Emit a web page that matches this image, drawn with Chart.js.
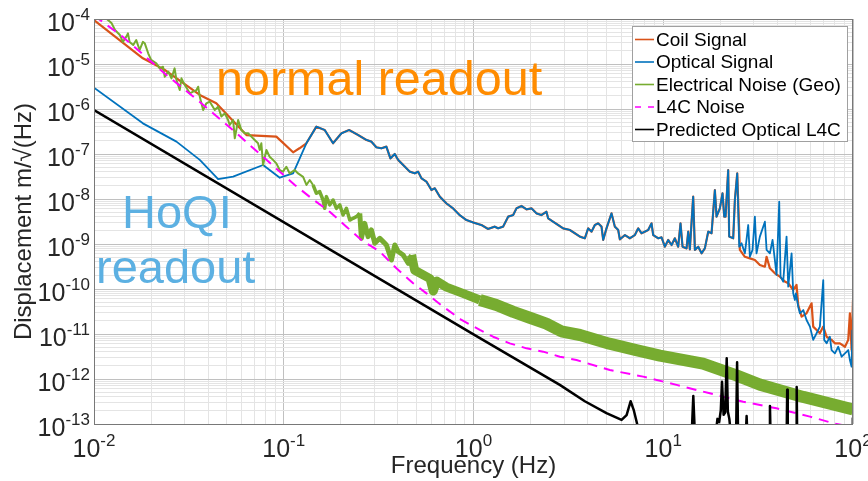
<!DOCTYPE html>
<html>
<head>
<meta charset="utf-8">
<script src="https://cdn.jsdelivr.net/npm/chart.js@4.4.1/dist/chart.umd.min.js"></script>
<style>
  html, body { margin: 0; padding: 0; background: #fff; }
  #wrap { width: 868px; height: 481px; }
</style>
</head>
<body>
<div id="wrap"><canvas id="myChart" width="868" height="481"></canvas></div>
<script>
// ---- data (frequency in Hz, amplitude in m/sqrt(Hz)) ----

// Coil signal, low frequency part
const coilLowHz  = [0.01, 0.0181, 0.0236, 0.0361, 0.0441, 0.0636, 0.0914, 0.112, 0.121];
const coilLowAmp = [9.5e-5, 1.34e-5, 7.4e-6, 2.05e-6, 1.34e-6, 2.64e-7, 2.43e-7, 1.09e-7, 1.34e-7];

// Optical signal, low frequency part
const opticalLowHz  = [0.01, 0.0181, 0.0272, 0.0361, 0.0451, 0.0541, 0.0778, 0.0953, 0.112, 0.1214];
const opticalLowAmp = [2.97e-6, 4.8e-7, 1.88e-7, 7.4e-8, 2.78e-8, 3.13e-8, 5.7e-8, 2.97e-8, 3.72e-8, 8.0e-8];

// 0.13 - 25 Hz: coil and optical lie on top of each other
const sharedHz = [0.1316, 0.1485, 0.1644, 0.1819, 0.2013, 0.221, 0.2465, 0.2727, 0.2897, 0.3078,
  0.327, 0.3474, 0.3648, 0.3845, 0.4006, 0.4432, 0.4615, 0.4903, 0.5107, 0.5319,
  0.565, 0.6003, 0.6252, 0.6642, 0.7196, 0.7797, 0.8448, 0.9153, 0.9917, 1.102,
  1.194, 1.294, 1.348, 1.432, 1.523, 1.618, 1.685, 1.79, 1.902, 2.021,
  2.147, 2.281, 2.424, 2.473, 2.627, 2.792, 2.966, 3.219, 3.42, 3.635,
  3.862, 4.021, 4.187, 4.361, 4.54, 4.727, 4.824, 5.023, 5.338, 5.558,
  5.788, 5.906, 6.276, 6.668, 7.085, 7.378, 7.683, 7.998, 8.329, 8.674,
  8.851, 9.404, 9.793, 10.2, 10.62, 11.06, 11.51, 11.99, 12.33, 12.64,
  13.27, 13.54, 13.81, 14.38, 14.68, 15.29, 15.92, 16.57, 17.26, 17.97,
  18.71, 19.09, 19.88, 20.53, 20.96, 21.3, 21.99, 22.26, 23.37, 23.85, 24.54];
const sharedAmp = [1.73e-7, 4.05e-7, 3.41e-7, 1.73e-7, 2.88e-7, 3.41e-7, 2.64e-7, 2.05e-7, 1.88e-7, 1.41e-7,
  1.34e-7, 1.46e-7, 8.0e-8, 1.0e-7, 7.4e-8, 4.8e-8, 4.05e-8, 3.72e-8, 4.05e-8, 2.88e-8,
  2.43e-8, 1.58e-8, 1.73e-8, 1.13e-8, 8.0e-9, 6.2e-9, 4.4e-9, 3.42e-9, 3.03e-9, 2.64e-9,
  2.16e-9, 2.43e-9, 2.23e-9, 2.43e-9, 4.05e-9, 4.4e-9, 6.2e-9, 7.0e-9, 5.9e-9, 6.2e-9,
  4.8e-9, 4.4e-9, 5.2e-9, 3.72e-9, 3.14e-9, 2.64e-9, 2.23e-9, 2.05e-9, 1.73e-9, 1.46e-9,
  1.34e-9, 2.23e-9, 1.88e-9, 2.64e-9, 2.88e-9, 2.43e-9, 1.23e-9, 2.23e-9, 4.8e-9, 2.43e-9,
  2.05e-9, 1.27e-9, 1.58e-9, 1.34e-9, 1.58e-9, 2.23e-9, 1.73e-9, 1.88e-9, 2.05e-9, 2.88e-9,
  1.58e-9, 1.34e-9, 1.41e-9, 8.7e-10, 1.23e-9, 9.5e-10, 1.34e-9, 8.7e-10, 2.88e-9, 8.7e-10,
  8.0e-10, 1.88e-9, 7.6e-10, 1.13e-8, 7.4e-10, 8.7e-10, 6.2e-10, 8.0e-10, 1.88e-9, 1.73e-9,
  1.58e-8, 4.05e-9, 6.2e-9, 1.34e-8, 4.05e-9, 4.05e-9, 4.4e-8, 1.46e-9, 1.34e-9, 9.5e-9, 3.72e-8];

// Coil signal above 25 Hz
const coilHighHz  = [25.34, 26.93, 28.61, 30.4, 32.3, 34.33, 35.04, 36.48, 38.75, 41.19,
  43.75, 45.57, 48.42, 50.4, 51.45, 53.6, 56.9, 60.5, 61.7, 64.3,
  66.9, 69.7, 72.6, 77.1, 80.3, 85.3, 90.7, 94.4, 96.3, 98.3, 100];
const coilHighAmp = [7.4e-10, 5.2e-10, 4.8e-10, 4.4e-10, 3.41e-10, 3.13e-10, 5.2e-10, 2.88e-10, 2.23e-10, 1.88e-10,
  1.46e-10, 1.34e-10, 9.5e-11, 1.23e-10, 4.4e-11, 2.43e-11, 2.88e-11, 4.8e-11, 1.46e-11, 1.23e-11,
  1.04e-11, 1.46e-11, 8.7e-12, 7.4e-12, 6.2e-12, 6.2e-12, 5.2e-12, 7.4e-12, 2.88e-11, 4.4e-12, 5.7e-11];

// Optical signal above 25 Hz
const opticalHighHz  = [25.14, 25.86, 26.93, 28.04, 28.61, 29.55, 30.4, 31.02, 32.3, 34.33,
  35.04, 36.48, 37.67, 38.75, 39.54, 40.85, 41.51, 42.88, 44.65, 45.57,
  47.46, 48.42, 49.41, 50.0, 51.45, 52.5, 54.7, 56.9, 59.3, 61.7,
  64.3, 66.9, 69.7, 70.5, 72.6, 75.5, 77.1, 80.3, 83.6, 87.1,
  90.7, 94.4, 96.3, 98.3, 99.2, 100];
const opticalHighAmp = [8.7e-10, 1.04e-9, 6.2e-10, 2.64e-9, 5.2e-10, 7.4e-10, 4.05e-9, 6.2e-10, 1.46e-9, 3.13e-9,
  7.4e-10, 6.2e-10, 1.23e-9, 4.4e-10, 2.05e-10, 8.7e-9, 1.88e-10, 1.46e-10, 1.46e-9, 1.13e-10,
  6.2e-10, 8.0e-11, 5.7e-11, 8.0e-11, 4.05e-11, 2.88e-11, 3.41e-11, 2.05e-11, 1.46e-11, 7.4e-12,
  1.04e-11, 1.46e-11, 1.58e-10, 7.4e-12, 6.2e-12, 8.7e-12, 4.4e-12, 3.72e-12, 5.2e-12, 3.13e-12,
  3.72e-12, 4.4e-12, 2.64e-12, 1.88e-12, 1.2e-11, 1.7e-12];

// Electrical noise (geophone)
const geoHz = [0.01, 0.0116, 0.0124, 0.0129, 0.0137, 0.0142, 0.0148, 0.0151, 0.0154, 0.0161,
  0.0167, 0.0174, 0.0181, 0.0185, 0.0193, 0.02, 0.0213, 0.0222, 0.0231, 0.0236,
  0.0246, 0.0256, 0.0266, 0.0272, 0.0283, 0.0289, 0.0301, 0.032, 0.0333, 0.0347,
  0.0354, 0.0361, 0.0376, 0.0391, 0.0407, 0.0433, 0.0451, 0.0469, 0.0489, 0.0509,
  0.0519, 0.0541, 0.0552, 0.0575, 0.0598, 0.0623, 0.0649, 0.0675, 0.0703, 0.0732,
  0.0747, 0.0762, 0.0778, 0.081, 0.0843, 0.0878, 0.0914, 0.0952, 0.0991, 0.1032,
  0.1075, 0.1142, 0.119, 0.1265, 0.1317, 0.1371, 0.1427, 0.1486, 0.1547, 0.1611,
  0.1644, 0.1678, 0.1747, 0.1819, 0.1895, 0.1973, 0.2054, 0.2139, 0.2228, 0.2319,
  0.2415, 0.2515, 0.2566, 0.2672, 0.2782, 0.2897, 0.3017, 0.3207, 0.3339, 0.3477,
  0.3696, 0.3848, 0.4007, 0.4259, 0.4528, 0.4714, 0.49, 0.59, 0.614, 0.64,
  0.72, 0.88, 1.08, 1.32, 1.62, 1.98, 2.42, 2.9, 3.64, 5.2,
  7.2, 9.6, 16.2, 24.3, 32.3, 54.7, 100];
const geoAmp = [1.6e-4, 1.03e-4, 8.0e-5, 5.7e-5, 4.4e-5, 3.1e-5, 4.05e-5, 4.8e-5, 3.1e-5, 2.64e-5,
  3.4e-5, 2.05e-5, 3.1e-5, 2.9e-5, 1.73e-5, 1.23e-5, 1.04e-5, 8.0e-6, 8.7e-6, 5.2e-6,
  6.8e-6, 4.8e-6, 8.0e-6, 4.4e-6, 2.64e-6, 4.8e-6, 3.4e-6, 2.23e-6, 2.43e-6, 2.64e-6,
  3.13e-6, 1.88e-6, 9.5e-7, 1.34e-6, 1.46e-6, 9.5e-7, 1.13e-6, 6.8e-7, 8.0e-7, 5.7e-7,
  4.4e-7, 5.7e-7, 2.23e-7, 5.7e-7, 3.4e-7, 2.9e-7, 2.9e-7, 2.43e-7, 2.05e-7, 1.73e-7,
  1.23e-7, 1.73e-7, 5.7e-8, 1.23e-7, 8.7e-8, 7.4e-8, 6.2e-8, 4.4e-8, 4.05e-8, 5.2e-8,
  3.7e-8, 4.4e-8, 3.7e-8, 3.1e-8, 2.05e-8, 2.64e-8, 2.05e-8, 1.34e-8, 1.46e-8, 9.5e-9,
  6.2e-9, 1.13e-8, 7.4e-9, 9.5e-9, 6.2e-9, 7.4e-9, 4.4e-9, 6.2e-9, 3.4e-9, 3.72e-9,
  4.05e-9, 4.8e-9, 1.34e-9, 2.88e-9, 1.46e-9, 2.05e-9, 1.04e-9, 1.34e-9, 1.13e-9, 9.5e-10,
  4.4e-10, 9.5e-10, 6.8e-10, 5.7e-10, 3.72e-10, 5.7e-10, 2.6e-10, 1.7e-10, 9.0e-11, 1.5e-10,
  1.1e-10, 8.0e-11, 5.7e-11, 4.4e-11, 3.1e-11, 2.3e-11, 1.7e-11, 1.15e-11, 9.5e-12, 6.1e-12,
  4.4e-12, 3.3e-12, 2.2e-12, 1.2e-12, 7.5e-13, 4.0e-13, 2.1e-13];

// L4C noise model
const l4cHz  = [0.01, 0.0142, 0.0241, 0.036, 0.054, 0.0794, 0.1143, 0.14, 0.1747, 0.2138,
  0.2566, 0.3207, 0.3926, 0.4808, 0.5652, 0.6918, 0.8645, 1.08, 1.269, 1.553,
  1.902, 2.33, 2.85, 3.49, 5.23, 7.84, 11.75, 17.6, 26.4, 39.5, 59.3, 78.7, 100];
const l4cAmp = [1.2e-4, 4.0e-5, 5.7e-6, 1.45e-6, 3.4e-7, 8.0e-8, 2.05e-8, 1.04e-8, 5.2e-9, 2.43e-9,
  1.23e-9, 6.8e-10, 2.88e-10, 1.34e-10, 8.0e-11, 4.05e-11, 2.05e-11, 1.23e-11, 8.7e-12, 6.2e-12,
  4.8e-12, 4.05e-12, 3.13e-12, 2.64e-12, 1.58e-12, 1.13e-12, 7.4e-13, 4.8e-13, 3.13e-13, 2.23e-13, 1.46e-13, 1.04e-13, 8.5e-14];

// Predicted optical L4C
const predHz  = [0.01, 1.0, 2.85, 3.86, 5.02, 6.03, 6.41, 6.73, 7.0, 7.38,
  8.0, 14.1, 14.4, 14.7, 18.8, 19.3, 19.7, 20.1, 20.4, 20.8,
  21.2, 21.6, 21.9, 22.3, 22.8, 24.2, 24.5, 24.8, 27.2, 27.5,
  27.8, 36.2, 36.5, 36.8, 44.7, 45.0, 45.3, 50.2, 50.5, 50.8, 99.5, 99.8, 100];
const predAmp = [9.5e-7, 9.8e-12, 7.4e-13, 3.2e-13, 1.74e-13, 1.23e-13, 1.58e-13, 3.2e-13, 2.0e-13, 8e-14,
  5e-14, 5e-14, 4.2e-13, 5e-14, 5e-14, 1.3e-13, 1.1e-13, 2.0e-13, 8.7e-13, 1.6e-13,
  1.8e-13, 2.9e-12, 1.9e-13, 1.3e-13, 5e-14, 5e-14, 2.35e-12, 5e-14, 5e-14, 1.5e-13,
  5e-14, 5e-14, 2.5e-13, 5e-14, 5e-14, 5.8e-13, 5e-14, 5e-14, 6.6e-13, 5e-14, 5e-14, 1.35e-13, 5e-14];

const seriesLabels = ['Coil Signal', 'Optical Signal', 'Electrical Noise (Geo)', 'L4C Noise', 'Predicted Optical L4C'];
const seriesColors = ['rgb(217,83,25)', 'rgb(0,114,189)', 'rgb(119,172,48)', 'rgb(255,0,255)', '#000000'];

const FONT = '"Liberation Sans", Arial, Helvetica, sans-serif';
const TEXT = '#262626';

// helper: zip two arrays into {x, y}
const pts = (xs, ys) => xs.map((x, i) => ({ x: x, y: ys[i] }));

const coilPts = pts(coilLowHz, coilLowAmp).concat(pts(sharedHz, sharedAmp), pts(coilHighHz, coilHighAmp));
const opticalPts = pts(opticalLowHz, opticalLowAmp).concat(pts(sharedHz, sharedAmp), pts(opticalHighHz, opticalHighAmp));

// geophone noise gets wider where the trace turns into a dense band
const geoWidth = (c) => {
    const f = c.p0.parsed.x;
    if (f < 0.14) return 2;
    if (f < 0.25) return 3.5;
    if (f < 0.47) return 5;
    if (f < 0.9) return 9;
    return 12;
};

// decade ticks with 2..9 minor lines, like matlab
function decadeTicks(scale) {
    const lo = Math.round(Math.log10(scale.min));
    const hi = Math.round(Math.log10(scale.max));
    const t = [];
    for (let e = lo; e <= hi; e++) {
        for (let k = 1; k <= 9; k++) {
            if (e === hi && k > 1) break;
            t.push({ value: k * Math.pow(10, e), major: k === 1 });
        }
    }
    scale.ticks = t;
}

const gridColor = (c) => (c.tick && c.tick.major) ? 'rgb(192,192,192)' : 'rgb(228,228,228)';

// "10" with a raised exponent
function powLabel(ctx, exp, x, y, align) {
    ctx.font = '25px ' + FONT;
    const wb = ctx.measureText('10').width;
    ctx.font = '17px ' + FONT;
    const we = ctx.measureText(exp).width;
    const left = align === 'right' ? x - wb - we : x - (wb + we) / 2;
    ctx.font = '25px ' + FONT;
    ctx.fillText('10', left, y);
    ctx.font = '17px ' + FONT;
    ctx.fillText(exp, left + wb, y - 11);
}

const decor = {
    id: 'decor',
    afterDraw(chart) {
        const { ctx, chartArea: a, scales } = chart;
        ctx.save();

        // axes box
        ctx.strokeStyle = 'rgb(120,120,120)';
        ctx.lineWidth = 1;
        ctx.strokeRect(a.left + 0.5, a.top + 0.5, a.right - a.left - 1, a.bottom - a.top);

        // tick labels
        ctx.fillStyle = TEXT;
        ctx.textBaseline = 'alphabetic';
        ctx.textAlign = 'left';
        scales.y.ticks.filter(t => t.major).forEach(t => {
            const y = scales.y.getPixelForValue(t.value);
            powLabel(ctx, String(Math.round(Math.log10(t.value))), a.left - 4, y + 12, 'right');
        });
        scales.x.ticks.filter(t => t.major).forEach(t => {
            const x = scales.x.getPixelForValue(t.value);
            powLabel(ctx, String(Math.round(Math.log10(t.value))), x, a.bottom + 33, 'center');
        });

        // annotations
        ctx.font = '48.5px ' + FONT;
        ctx.fillStyle = 'rgb(255,140,0)';
        ctx.fillText('normal readout', 216, 95);
        ctx.font = '47px ' + FONT;
        ctx.fillStyle = 'rgb(92,176,226)';
        ctx.fillText('HoQI', 122, 228);
        ctx.fillText('readout', 96, 283);

        // legend
        const lx = 632, ly = 26, lw = 215, lh = 115;
        ctx.fillStyle = '#fff';
        ctx.fillRect(lx, ly, lw, lh);
        ctx.strokeStyle = 'rgb(160,160,160)';
        ctx.strokeRect(lx + 0.5, ly + 0.5, lw, lh);
        ctx.font = '19px ' + FONT;
        ctx.textBaseline = 'middle';
        chart.data.datasets.forEach((ds, i) => {
            const ry = ly + 13.5 + i * 22.5;
            ctx.strokeStyle = ds.borderColor;
            ctx.lineWidth = 1.6;
            ctx.setLineDash(ds.borderDash ? [6, 7] : []);
            ctx.beginPath();
            ctx.moveTo(lx + 3, ry);
            ctx.lineTo(lx + 22, ry);
            ctx.stroke();
            ctx.setLineDash([]);
            ctx.fillStyle = '#000';
            ctx.fillText(ds.label, lx + 24, ry + 1);
        });
        ctx.restore();
    }
};

const config = {
    type: 'line',
    data: {
        datasets: [
            { label: seriesLabels[0], data: coilPts, borderColor: seriesColors[0], borderWidth: 2.2, order: 5 },
            { label: seriesLabels[1], data: opticalPts, borderColor: seriesColors[1], borderWidth: 1.8, order: 4 },
            { label: seriesLabels[2], data: pts(geoHz, geoAmp), borderColor: seriesColors[2], borderWidth: 2,
              segment: { borderWidth: geoWidth }, order: 3 },
            { label: seriesLabels[3], data: pts(l4cHz, l4cAmp), borderColor: seriesColors[3], borderWidth: 2,
              borderDash: [10, 7], order: 2 },
            { label: seriesLabels[4], data: pts(predHz, predAmp), borderColor: seriesColors[4], borderWidth: 2.5, order: 1 }
        ]
    },
    options: {
        responsive: false,
        animation: false,
        devicePixelRatio: 1,
        layout: { padding: { top: 19, right: 15, left: 0, bottom: 0 } },
        elements: {
            point: { radius: 0 },
            line: { tension: 0, borderJoinStyle: 'round', fill: false }
        },
        plugins: { legend: { display: false }, tooltip: { enabled: false } },
        scales: {
            x: {
                type: 'logarithmic',
                min: 0.01,
                max: 100,
                afterBuildTicks: decadeTicks,
                afterFit: (s) => { s.height = 57; },
                ticks: { display: false, autoSkip: false },
                grid: { color: gridColor, drawTicks: false },
                border: { display: false },
                title: {
                    display: true,
                    text: 'Frequency (Hz)',
                    color: TEXT,
                    font: { family: FONT, size: 24 },
                    padding: { top: 0, bottom: 0 }
                }
            },
            y: {
                type: 'logarithmic',
                min: 1e-13,
                max: 1e-4,
                afterBuildTicks: decadeTicks,
                afterFit: (s) => { s.width = 94; },
                ticks: { display: false, autoSkip: false },
                grid: { color: gridColor, drawTicks: false },
                border: { display: false },
                title: {
                    display: true,
                    text: 'Displacement m/\u221A(Hz)',
                    color: TEXT,
                    font: { family: FONT, size: 24 },
                    padding: { top: 10, bottom: 0 }
                }
            }
        }
    },
    plugins: [decor]
};

const myChart = new Chart(document.getElementById('myChart'), config);
</script>
</body>
</html>
